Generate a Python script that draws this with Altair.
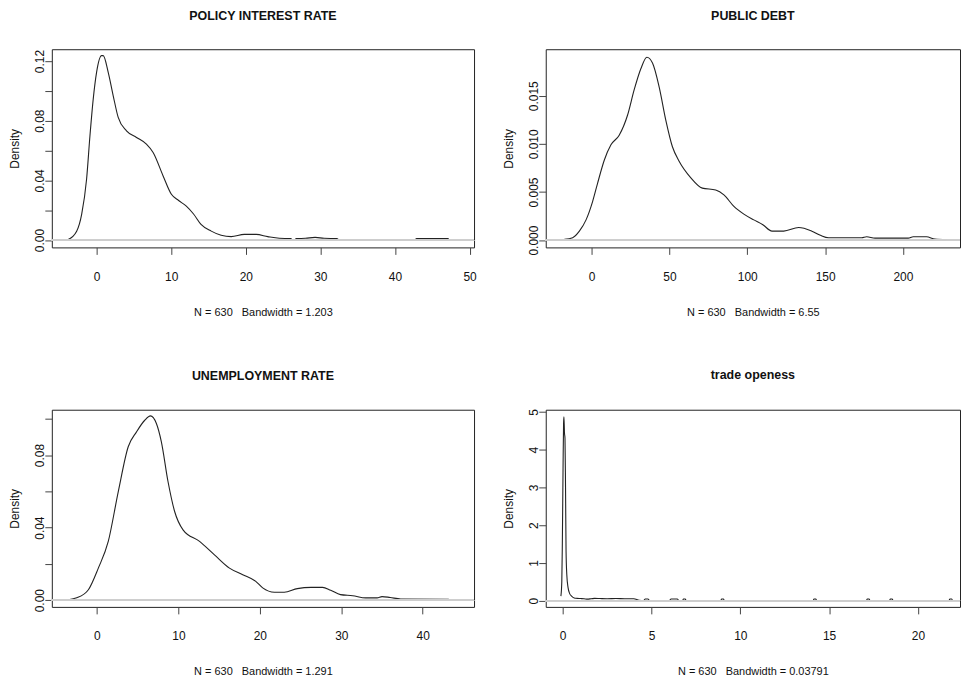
import altair as alt
import pandas as pd

SANS = "Liberation Sans, Arial, sans-serif"

# ---------------- data ----------------
policy_x = [-3.8, -2.67, -2.0, -1.34, -0.89, -0.45, 0.0, 0.67, 0.89, 1.56, 2.23, 2.9, 4.01,
            5.35, 6.68, 7.58, 8.92, 10.03, 11.0, 12.03, 13.0, 14.0, 15.37, 16.7, 18.05,
            19.8, 21.4, 22.95, 24.5, 26.0, 26.4, 26.8, 28.0, 29.3, 30.5, 32.2, 32.6, 42.6,
            42.9, 47.2]
policy_y = [0.0004, 0.006, 0.0173, 0.0408, 0.0698, 0.0945, 0.1124, 0.1236, 0.1236, 0.1124,
            0.0967, 0.0822, 0.0732, 0.0688, 0.0643, 0.0587, 0.043, 0.0307, 0.0265, 0.0228,
            0.0175, 0.0105, 0.006, 0.0032, 0.0023, 0.0038, 0.0038, 0.0023, 0.0012, 0.0010,
            0.0, 0.0010, 0.0012, 0.0018, 0.0012, 0.0010, 0.0, 0.0, 0.0010, 0.0010]

debt_x = [-17.5, -12.2, -7.9, -3.6, 0.6, 3.8, 8.1, 12.4, 17.7, 23.1, 27.3, 31.6, 35.5, 39.1,
          43.4, 47.6, 51.9, 56.2, 63.6, 71.1, 79.7, 85.0, 91.4, 97.8, 104.2, 110.0, 115.9,
          123.4, 133.0, 141.5, 147.0, 152.2, 173.5, 176.7, 182.1, 203.4, 206.6, 215.2,
          220.5, 228.0]
debt_y = [0.00007, 0.00025, 0.00093, 0.0021, 0.0040, 0.0059, 0.0083, 0.0099, 0.0109, 0.0130,
          0.0156, 0.0178, 0.0190, 0.0184, 0.0159, 0.0125, 0.0097, 0.0082, 0.0065, 0.0054,
          0.0052, 0.0047, 0.0035, 0.0027, 0.0021, 0.0016, 0.00093, 0.00093, 0.0013, 0.00093,
          0.0005, 0.00025, 0.00025, 0.00035, 0.0002, 0.0002, 0.00035, 0.00035, 0.0001,
          0.00005]

unemp_x = [-3.5, -2.48, -1.05, 0.17, 1.39, 2.62, 3.84, 4.86, 5.87, 6.57, 7.3, 7.91, 8.73,
           9.54, 10.57, 12.6, 14.43, 16.27, 17.9, 19.5, 20.35, 21.8, 23.0, 24.6, 26.3, 27.7,
           28.7, 29.9, 31.4, 33.0, 34.4, 35.0, 36.0, 37.3, 43.2]
unemp_y = [0.0003, 0.0013, 0.0058, 0.0177, 0.0324, 0.0599, 0.0846, 0.0928, 0.0992, 0.1016,
           0.0974, 0.0873, 0.0653, 0.0489, 0.0388, 0.0324, 0.0250, 0.0177, 0.0141, 0.0104,
           0.0068, 0.0044, 0.0044, 0.0064, 0.0071, 0.0071, 0.0055, 0.0031, 0.0025, 0.0013,
           0.0013, 0.0020, 0.0015, 0.0007, 0.0005]

trade_x = [-0.10, -0.05, -0.02, 0.02, 0.05, 0.07, 0.10, 0.13, 0.16, 0.19, 0.23, 0.30, 0.40,
           0.50, 0.65, 0.80, 1.0, 1.2, 1.4, 1.6, 1.8, 2.1, 2.5, 3.0, 3.5, 4.0, 4.3, 4.55, 4.65,
           4.8, 4.9, 6.0, 6.1, 6.45, 6.55, 6.75, 6.8, 6.9, 6.95, 8.9, 8.95, 9.05, 9.1, 14.1,
           14.15, 14.25, 14.3, 17.1, 17.15, 17.25, 17.3, 18.4, 18.45, 18.55, 18.6, 21.75,
           21.8, 21.9, 21.95]
trade_y = [0.12, 0.5, 1.5, 3.5, 4.7, 4.87, 4.45, 4.3, 3.0, 1.3, 0.7, 0.35, 0.18, 0.12, 0.07,
           0.06, 0.055, 0.05, 0.04, 0.05, 0.06, 0.055, 0.05, 0.055, 0.05, 0.05, 0.01, 0.0,
           0.045, 0.045, 0.0, 0.0, 0.045, 0.045, 0.0, 0.0, 0.045, 0.045, 0.0, 0.0, 0.045,
           0.045, 0.0, 0.0, 0.045, 0.045, 0.0, 0.0, 0.045, 0.045, 0.0, 0.0, 0.045, 0.045,
           0.0, 0.0, 0.045, 0.045, 0.0]

titles = ["POLICY INTEREST RATE", "PUBLIC DEBT", "UNEMPLOYMENT RATE", "trade openess"]
x_titles = ["N = 630   Bandwidth = 1.203", "N = 630   Bandwidth = 6.55",
            "N = 630   Bandwidth = 1.291", "N = 630   Bandwidth = 0.03791"]
x_ticks = [[0, 10, 20, 30, 40, 50], [0, 50, 100, 150, 200], [0, 10, 20, 30, 40],
           [0, 5, 10, 15, 20]]
y_ticks = [[0, 0.02, 0.04, 0.06, 0.08, 0.10, 0.12], [0, 0.005, 0.010, 0.015],
           [0, 0.02, 0.04, 0.06, 0.08, 0.10], [0, 1, 2, 3, 4, 5]]
y_labeled = [[0, 0.04, 0.08, 0.12], [0, 0.005, 0.010, 0.015], [0, 0.04, 0.08],
             [0, 1, 2, 3, 4, 5]]
y_formats = [".2f", ".3f", ".2f", "d"]
x_domains = [[-6.0, 50.6], [-29.5, 236.7], [-5.54, 46.3], [-0.954, 22.37]]
y_domains = [[-0.0049, 0.1279], [-0.00076, 0.01983], [-0.00368, 0.1050],
             [-0.166, 5.06]]
xs = [policy_x, debt_x, unemp_x, trade_x]
ys = [policy_y, debt_y, unemp_y, trade_y]
widths = [424, 416, 424, 416]
heights = [199, 199, 198, 198]


def panel(i):
    df = pd.DataFrame({"x": xs[i], "y": ys[i]})
    y_axis_kw = {}
    if y_labeled[i] != y_ticks[i]:
        cond = " || ".join(f"round(datum.value*1000) == {round(v * 1000)}"
                           for v in y_labeled[i])
        y_axis_kw["labelExpr"] = f"({cond}) ? format(datum.value, '{y_formats[i]}') : ''"
    xtitle = x_titles[i].replace("   ", "\u00a0\u00a0\u00a0")
    x_enc = alt.X("x:Q",
                  scale=alt.Scale(domain=x_domains[i], nice=False, zero=False),
                  axis=alt.Axis(values=x_ticks[i], tickCount=50, title=xtitle, grid=False,
                                domain=False, tickColor="#444", tickSize=7, labelFont=SANS,
                                labelFontSize=12, labelColor="#111", labelPadding=17,
                                titleFont=SANS, titleFontSize=11,
                                titleFontWeight="normal", titleColor="#111",
                                titlePadding=24, format="d", labelFlush=False,
                                labelOverlap=False))
    y_enc = alt.Y("y:Q",
                  scale=alt.Scale(domain=y_domains[i], nice=False, zero=False),
                  axis=alt.Axis(values=y_ticks[i], tickCount=50, title="Density",
                                grid=False, domain=False, tickColor="#444", tickSize=7,
                                labelFont=SANS, labelFontSize=12, labelColor="#111",
                                labelAngle=270, labelAlign="center",
                                labelBaseline="alphabetic", labelPadding=1,
                                format=y_formats[i], labelFlush=False,
                                labelOverlap=False,
                                titleFont=SANS, titleFontSize=12,
                                titleFontWeight="normal", titleColor="#111",
                                titlePadding=12, **y_axis_kw))
    line = alt.Chart(df).mark_line(color="#222", strokeWidth=1.1,
                                   interpolate="monotone").encode(x=x_enc, y=y_enc)
    zero = alt.Chart(df).mark_rule(color="#cdcdcd", strokeWidth=1.2).encode(
        y=alt.datum(0))
    return alt.layer(line, zero).properties(
        width=widths[i], height=heights[i],
        title=alt.TitleParams(titles[i], font=SANS, fontSize=12.5, fontWeight="bold",
                              color="#111", anchor="middle", frame="group",
                              baseline="alphabetic", offset=17))


chart = alt.concat(*[panel(i) for i in range(4)], columns=2,
                   spacing={"row": 163, "column": 72}, bounds="flush").properties(
    padding={"left": 0, "top": 0, "right": 0, "bottom": 0},
    background="white",
).configure_view(stroke="#222", strokeWidth=1).configure_axis(labelOverlap=False)

chart.save("out.html", embed_options={"renderer": "svg", "actions": False})
